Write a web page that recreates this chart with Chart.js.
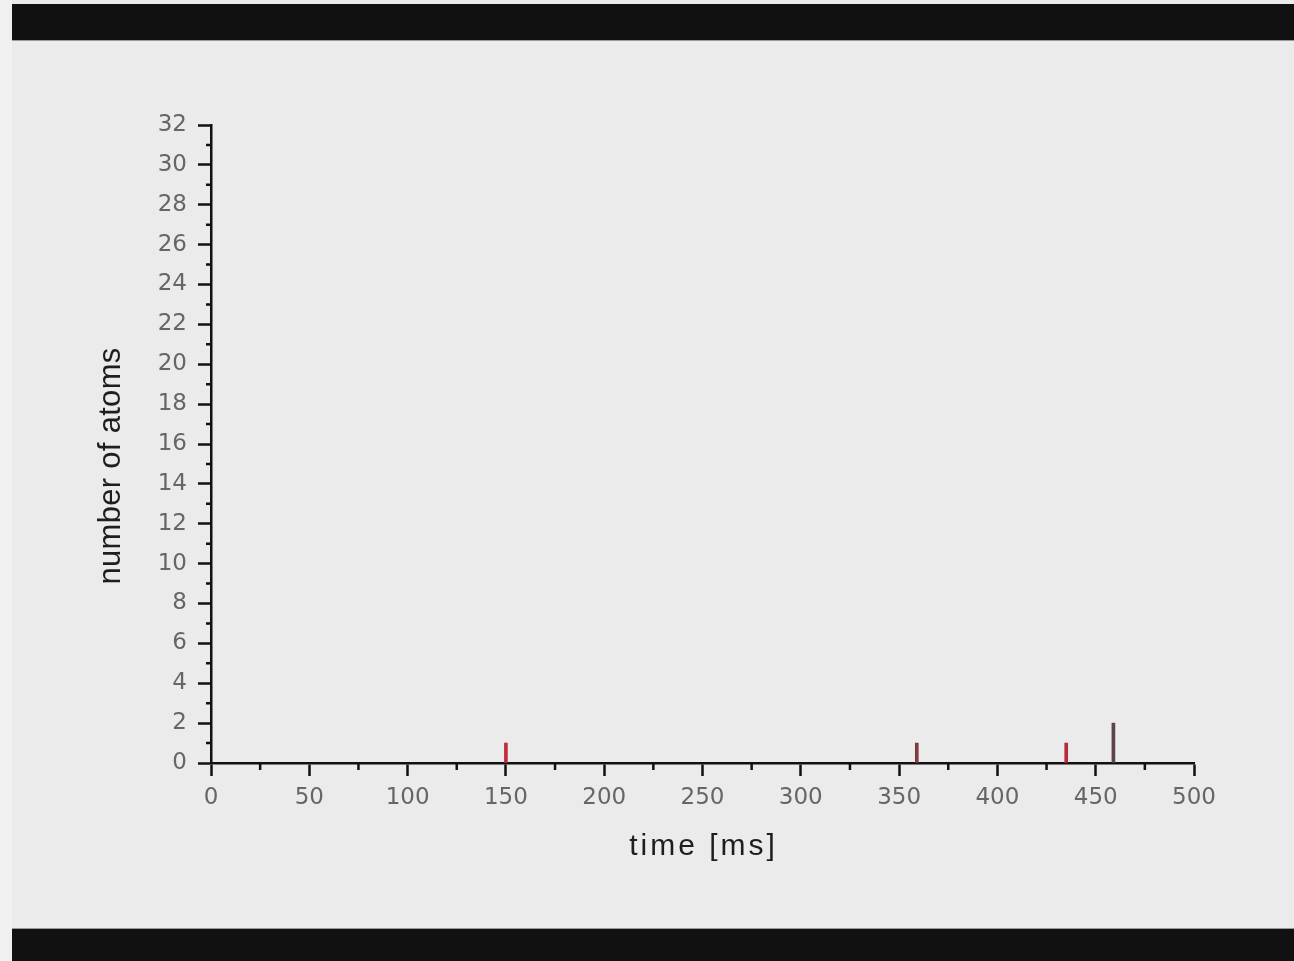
<!DOCTYPE html>
<html>
<head>
<meta charset="utf-8">
<script src="https://cdn.jsdelivr.net/npm/chart.js@4"></script>
<style>
    html, body { margin: 0; padding: 0; background: #f0f0f0; }
    #wrap { width: 1294px; height: 961px; position: relative; }
</style>
</head>
<body>
<div id="wrap"><canvas id="atomsChart" width="1294" height="961"></canvas></div>
<script>
// detection times and atom counts
const times = [150, 359, 435, 459];
const atoms = [1, 1, 1, 2];
const barColors = ["#c42a3e", "#7e3a3c", "#b52c3c", "#5c4446"];

const xTicks = [0, 50, 100, 150, 200, 250, 300, 350, 400, 450, 500];
const yTicks = [0, 2, 4, 6, 8, 10, 12, 14, 16, 18, 20, 22, 24, 26, 28, 30, 32];

const xTitle = "time [ms]";
const yTitle = "number of atoms";

Chart.defaults.font.family = "'DejaVu Sans', sans-serif";

// panel background and the dark bands above and below
const framePlugin = {
    id: "frame",
    beforeDraw(chart) {
        const ctx = chart.ctx;
        ctx.save();
        ctx.fillStyle = "#f0f0f0";
        ctx.fillRect(0, 0, 1294, 961);
        ctx.fillStyle = "#ebebeb";
        ctx.fillRect(12, 0, 1282, 961);
        ctx.fillStyle = "#111111";
        ctx.fillRect(12, 4, 1282, 36);
        ctx.fillRect(12, 929, 1282, 32);
        ctx.fillStyle = "#9a9a9a";
        ctx.fillRect(12, 40, 1282, 1);
        ctx.fillRect(12, 928, 1282, 1);
        ctx.restore();
    },
};

// minor ticks between the labelled ones, plus the axis titles
const minorTicks = {
    id: "minorTicks",
    afterDraw(chart) {
        const ctx = chart.ctx;
        const x = chart.scales.x;
        const y = chart.scales.y;
        const area = chart.chartArea;
        ctx.save();
        ctx.strokeStyle = "#111";
        ctx.lineWidth = 2.5;
        ctx.beginPath();
        for (let v = 25; v < 500; v += 50) {
            const px = x.getPixelForValue(v);
            ctx.moveTo(px, area.bottom);
            ctx.lineTo(px, area.bottom + 7);
        }
        for (let v = 1; v < 32; v += 2) {
            const py = y.getPixelForValue(v);
            ctx.moveTo(area.left, py);
            ctx.lineTo(area.left - 5, py);
        }
        ctx.stroke();

        ctx.fillStyle = "#1e1e1e";
        ctx.textAlign = "center";
        ctx.textBaseline = "middle";
        ctx.font = "30px 'Liberation Sans', Arial, sans-serif";
        ctx.letterSpacing = "3px";
        ctx.fillText(xTitle, (area.left + area.right) / 2 + 1, 847);

        ctx.font = "31px 'Liberation Sans', Arial, sans-serif";
        ctx.letterSpacing = "0.3px";
        ctx.translate(111, 466);
        ctx.rotate(-Math.PI / 2);
        ctx.fillText(yTitle, 0, 0);
        ctx.restore();
    },
};

new Chart(document.getElementById("atomsChart"), {
    type: "bar",
    data: {
        datasets: [
            {
                data: times.map((t, i) => ({ x: t, y: atoms[i] })),
                backgroundColor: barColors,
                borderWidth: 0,
                barThickness: 3,
            },
        ],
    },
    options: {
        responsive: false,
        animation: false,
        layout: { padding: { top: 125, right: 100, left: 0, bottom: 0 } },
        plugins: { legend: { display: false }, tooltip: { enabled: false } },
        scales: {
            x: {
                type: "linear",
                min: 0,
                max: 500,
                offset: false,
                afterBuildTicks: (s) => { s.ticks = xTicks.map(v => ({ value: v })); },
                afterFit: (s) => { s.height = 198; },
                border: { display: true, color: "#111", width: 2.5 },
                grid: { offset: false, drawOnChartArea: false, color: "#111", tickLength: 13, tickWidth: 2.5 },
                ticks: { color: "#666", font: { size: 23 }, padding: 8, maxRotation: 0 },
            },
            y: {
                min: 0,
                max: 32,
                afterBuildTicks: (s) => { s.ticks = yTicks.map(v => ({ value: v })); },
                afterFit: (s) => { s.width = 211; },
                border: { display: true, color: "#111", width: 2.5 },
                grid: { offset: false, drawOnChartArea: false, color: "#111", tickLength: 13, tickWidth: 2.5 },
                ticks: { color: "#666", font: { size: 23 }, padding: 11 },
            },
        },
    },
    plugins: [framePlugin, minorTicks],
});
</script>
</body>
</html>
